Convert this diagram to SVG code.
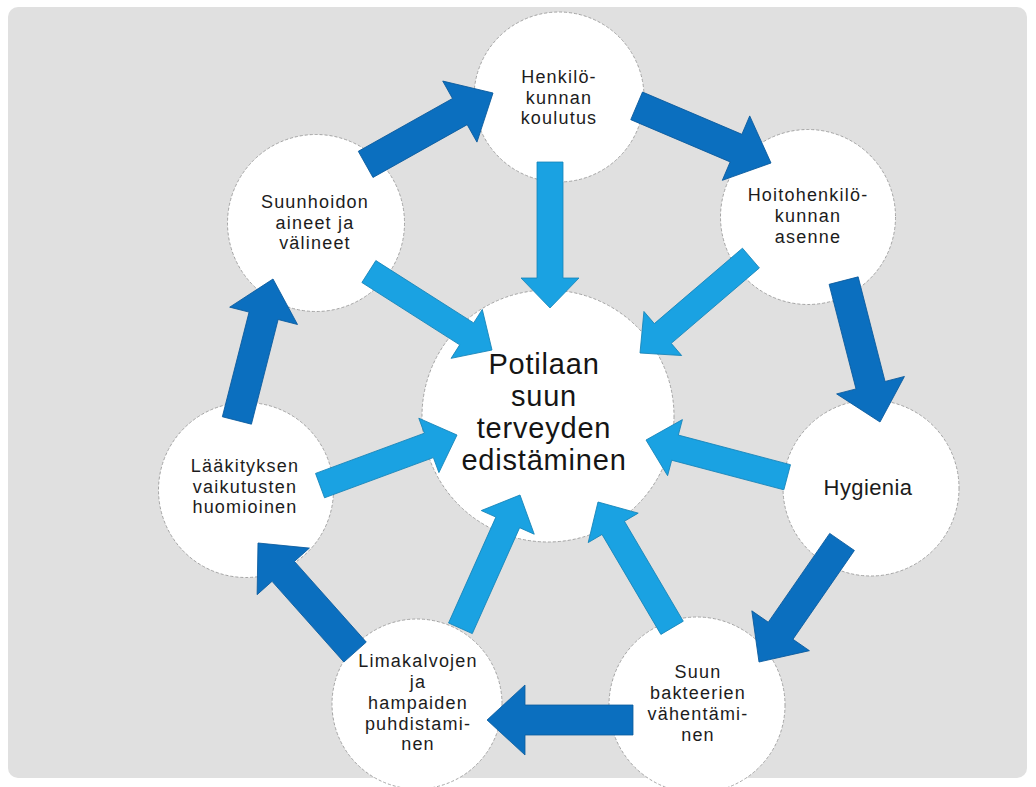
<svg xmlns="http://www.w3.org/2000/svg" xmlns:xlink="http://www.w3.org/1999/xlink" width="1036" height="787" viewBox="0 0 1036 787">
<style>
.node{fill:#ffffff;stroke:#9c9c9c;stroke-width:0.9;stroke-dasharray:3 2}
.lbl{font-family:"Liberation Sans",Arial,sans-serif;font-size:18px;letter-spacing:1.2px;fill:#1c1c1c;text-anchor:middle}
.big{font-family:"Liberation Sans",Arial,sans-serif;font-size:29px;letter-spacing:0.8px;fill:#151515;text-anchor:middle}
.hyg{font-family:"Liberation Sans",Arial,sans-serif;font-size:22px;letter-spacing:0.4px;fill:#1c1c1c;text-anchor:middle}
.dark{fill:#0b6fbf;stroke:#0a5a9c;stroke-width:0.8}
.light{fill:#1aa2e2;stroke:#1784b8;stroke-width:0.8}
</style>
<defs>
<polygon id="darkArrow" points="-146,-15 -38,-15 -38,-35 0,0 -38,35 -38,15 -146,15"/>
<polygon id="lightArrow" points="-146,-13 -30,-13 -30,-29 0,0 -30,29 -30,13 -146,13"/>
</defs>
<rect x="0" y="0" width="1036" height="787" fill="#ffffff"/>
<rect x="8" y="7" width="1019" height="771" rx="10" fill="#e0e0e0"/>

<g id="node-center"><circle class="node" cx="548" cy="416" r="126"/>
<text class="big" x="544" y="374">Potilaan</text>
<text class="big" x="544" y="406">suun</text>
<text class="big" x="544" y="438">terveyden</text>
<text class="big" x="544" y="470">edistäminen</text></g>

<g id="node-henkilokunnan-koulutus"><circle class="node" cx="559" cy="97" r="85"/>
<text class="lbl" x="559" y="83">Henkilö-</text>
<text class="lbl" x="559" y="103.5">kunnan</text>
<text class="lbl" x="559" y="124">koulutus</text></g>

<g id="node-hoitohenkilokunnan-asenne"><circle class="node" cx="808" cy="217" r="87.5"/>
<text class="lbl" x="808" y="201">Hoitohenkilö-</text>
<text class="lbl" x="808" y="222">kunnan</text>
<text class="lbl" x="808" y="243">asenne</text></g>

<g id="node-hygienia"><circle class="node" cx="871" cy="488" r="88"/>
<text class="hyg" x="868" y="495">Hygienia</text></g>

<g id="node-suun-bakteerien"><circle class="node" cx="697" cy="705" r="88"/>
<text class="lbl" x="698" y="678">Suun</text>
<text class="lbl" x="698" y="698.5">bakteerien</text>
<text class="lbl" x="698" y="719.5">vähentämi-</text>
<text class="lbl" x="698" y="741">nen</text></g>

<g id="node-limakalvojen"><circle class="node" cx="417" cy="704" r="85"/>
<text class="lbl" x="418" y="667">Limakalvojen</text>
<text class="lbl" x="418" y="687.5">ja</text>
<text class="lbl" x="418" y="708.5">hampaiden</text>
<text class="lbl" x="418" y="729.5">puhdistami-</text>
<text class="lbl" x="418" y="750">nen</text></g>

<g id="node-laakityksen"><circle class="node" cx="246" cy="490" r="87.5"/>
<text class="lbl" x="245" y="472">Lääkityksen</text>
<text class="lbl" x="245" y="492.5">vaikutusten</text>
<text class="lbl" x="245" y="513">huomioinen</text></g>

<g id="node-suunhoidon-aineet"><circle class="node" cx="316" cy="223" r="88.5"/>
<text class="lbl" x="315" y="208">Suunhoidon</text>
<text class="lbl" x="315" y="228.5">aineet ja</text>
<text class="lbl" x="315" y="249">välineet</text></g>

<g id="connectors">
<use xlink:href="#darkArrow" class="dark" transform="translate(493,93) rotate(-29.27)"/>
<use xlink:href="#darkArrow" class="dark" transform="translate(771,163) rotate(23.04)"/>
<use xlink:href="#darkArrow" class="dark" transform="translate(880,422) rotate(75.58)"/>
<use xlink:href="#darkArrow" class="dark" transform="translate(759,662) rotate(124.67)"/>
<use xlink:href="#darkArrow" class="dark" transform="translate(487,720) rotate(180)"/>
<use xlink:href="#darkArrow" class="dark" transform="translate(258,543) rotate(228.33)"/>
<use xlink:href="#darkArrow" class="dark" transform="translate(273,279) rotate(-75.68)"/>
<use xlink:href="#lightArrow" class="light" transform="translate(550,308) rotate(90)"/>
<use xlink:href="#lightArrow" class="light" transform="translate(640,353) rotate(139.44)"/>
<use xlink:href="#lightArrow" class="light" transform="translate(646,440) rotate(194.78)"/>
<use xlink:href="#lightArrow" class="light" transform="translate(598,502) rotate(239.51)"/>
<use xlink:href="#lightArrow" class="light" transform="translate(520,495) rotate(-65.92)"/>
<use xlink:href="#lightArrow" class="light" transform="translate(457,435) rotate(-20.28)"/>
<use xlink:href="#lightArrow" class="light" transform="translate(492,350) rotate(32.5)"/>
</g>
</svg>
